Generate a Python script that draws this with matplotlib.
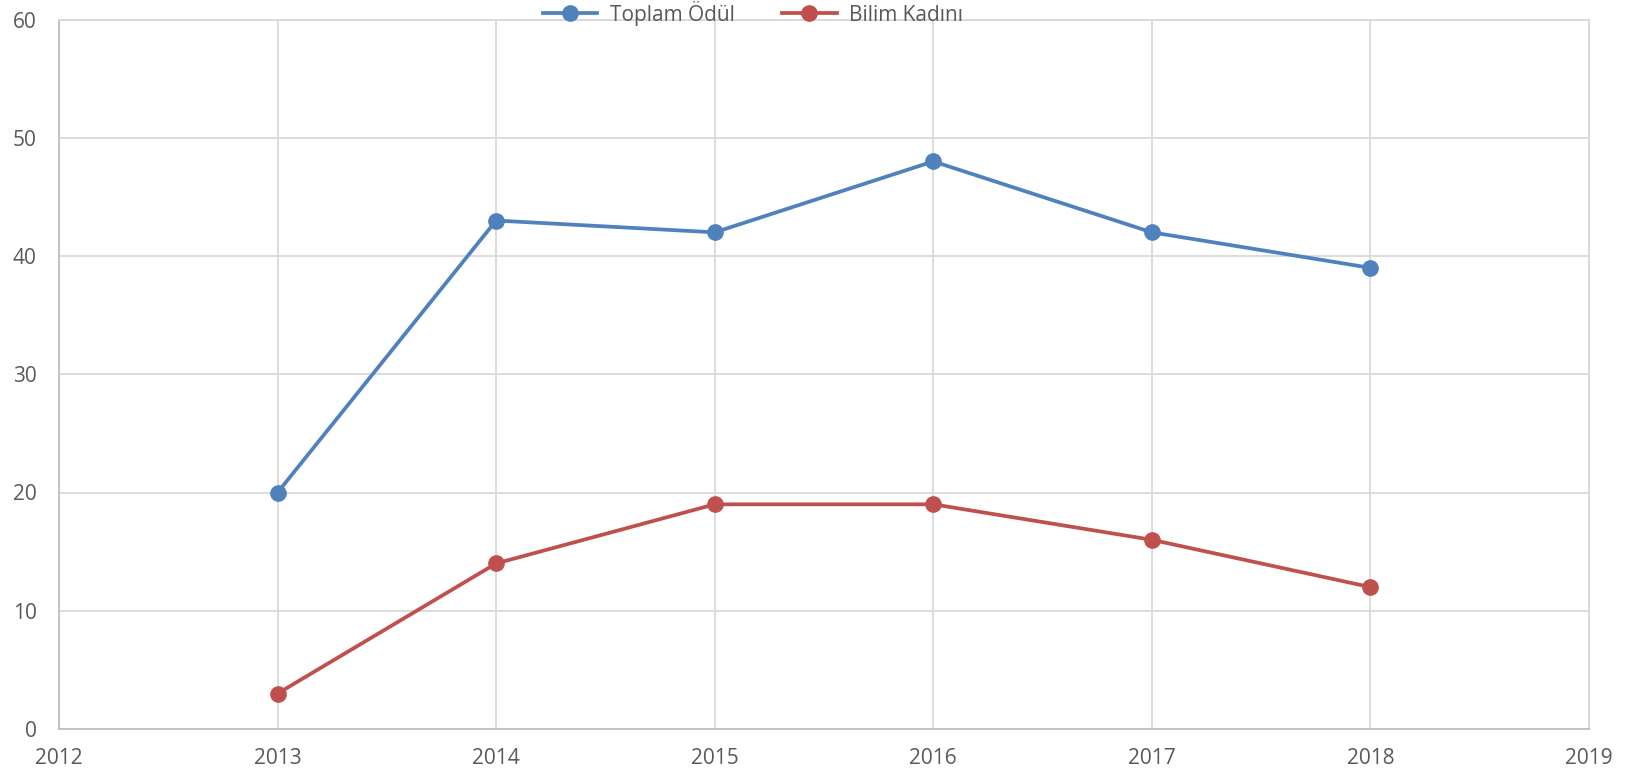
import matplotlib
matplotlib.use("Agg")
import matplotlib.pyplot as plt

years = [2013, 2014, 2015, 2016, 2017, 2018]
toplam_odul = [20, 43, 42, 48, 42, 39]
bilim_kadini = [3, 14, 19, 19, 16, 12]
labels = ["Toplam Ödül", "Bilim Kadını"]

plt.rcParams['font.family'] = ['Open Sans', 'DejaVu Sans']

fig = plt.figure(figsize=(16.44, 7.76), dpi=100)
ax = fig.add_axes([59/1644, 47/776, 1530/1644, 709.5/776])

ax.plot(years, toplam_odul, color='#4F81BD', lw=2.7, marker='o', ms=11, label=labels[0])
ax.plot(years, bilim_kadini, color='#C0504D', lw=2.7, marker='o', ms=11, label=labels[1])

ax.set_xlim(2012, 2019)
ax.set_ylim(0, 60)
ax.set_xticks(range(2012, 2020))
ax.set_yticks(range(0, 61, 10))
ax.grid(True, color='#D9D9D9', lw=1.3)
ax.set_axisbelow(True)
for s in ax.spines.values():
    s.set_color('#D9D9D9')
    s.set_linewidth(1.3)
ax.spines['left'].set_color('#BFBFBF')
ax.spines['bottom'].set_color('#BFBFBF')
ax.tick_params(length=0, labelsize=15, labelcolor='#595959')
ax.tick_params(axis='y', pad=16)
ax.tick_params(axis='x', pad=14)

leg = fig.legend(loc='center', bbox_to_anchor=(0.458, 0.983), ncol=2, frameon=False,
                 fontsize=15, handlelength=2.6, handletextpad=0.6, columnspacing=2.3,
                 borderpad=0)
for t in leg.get_texts():
    t.set_color('#595959')

fig.savefig('out.png', dpi=100)
